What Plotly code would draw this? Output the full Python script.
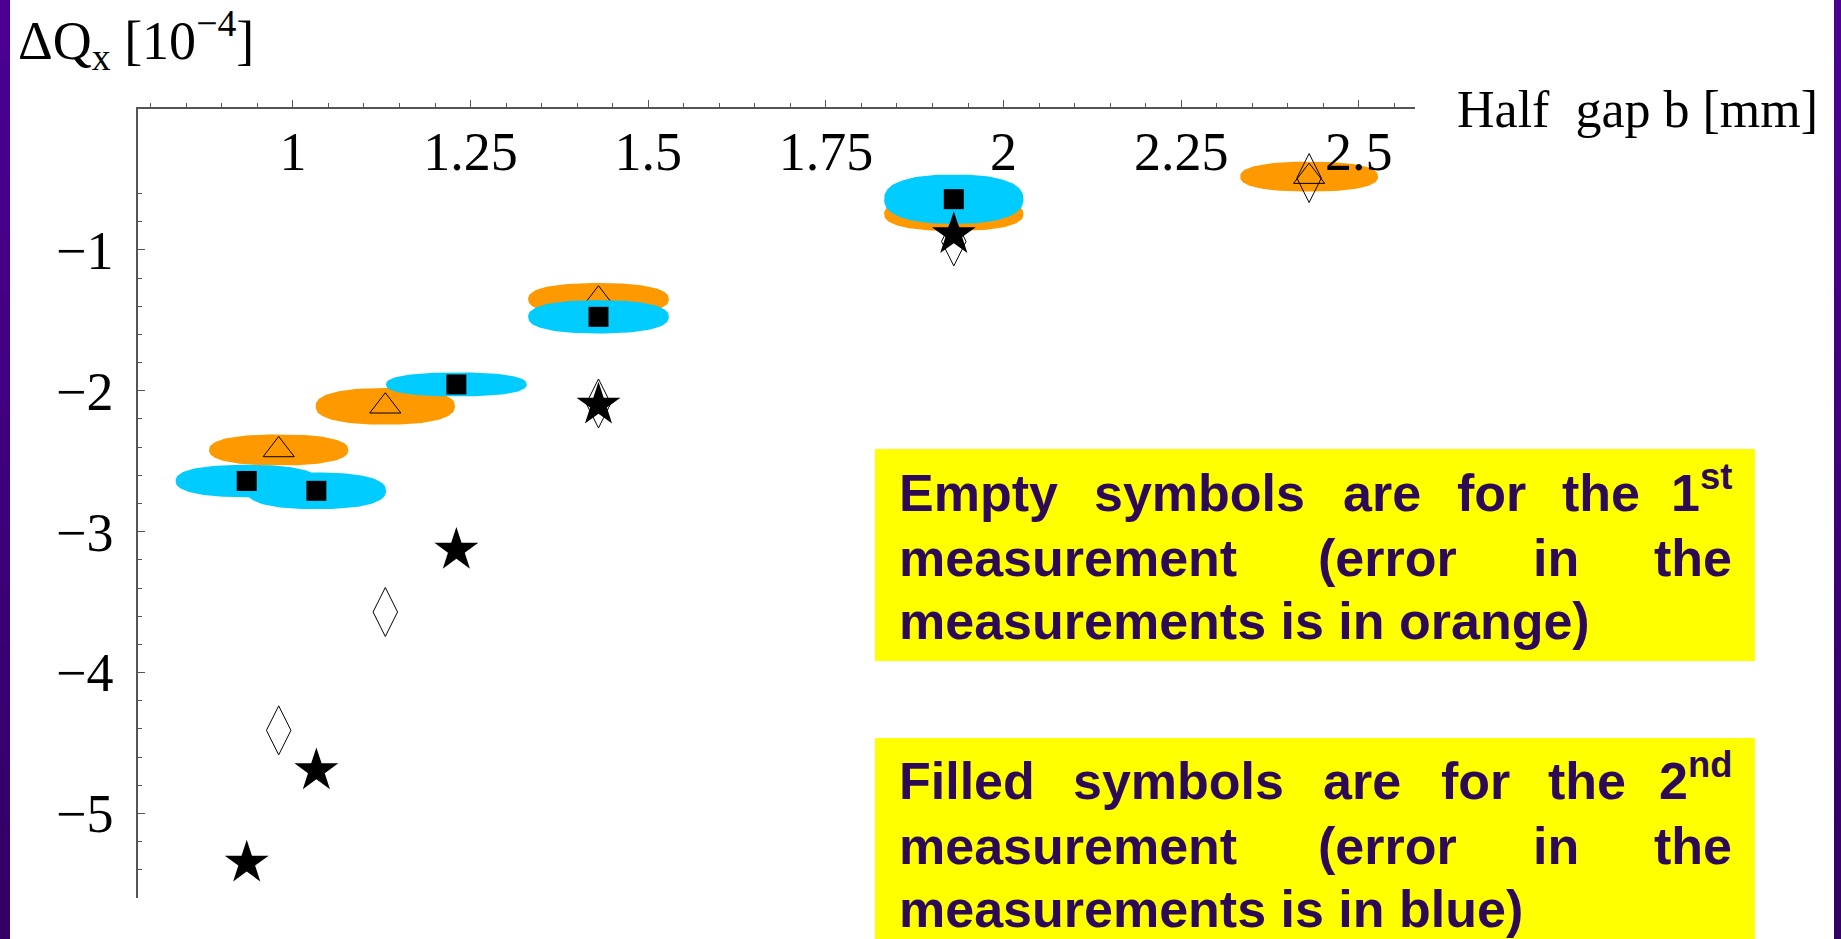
import numpy as np
import plotly.graph_objects as go

# ---------------- data ----------------
# 1st measurement: empty symbols, orange error regions
gap1 = [0.98, 1.13, 1.43, 1.93, 2.43]
meas1 = [-2.42, -2.11, -1.35, -0.745, -0.48]
meas1_err_y = [0.11, 0.13, 0.115, 0.12, 0.106]
meas1_err_x = [0.098, 0.098, 0.099, 0.098, 0.097]
theory1 = [-4.41, -3.57, -2.09, -0.94, -0.49]

# 2nd measurement: filled symbols, blue error regions
gap2 = [0.935, 1.033, 1.23, 1.43, 1.93]
meas2 = [-2.64, -2.71, -1.955, -1.475, -0.64]
meas2_err_y = [0.115, 0.13, 0.085, 0.118, 0.175]
meas2_err_x = [0.1, 0.098, 0.099, 0.099, 0.098]
theory2 = [-5.35, -4.695, -3.13, -2.10, -0.89]

x_tickvals = [1, 1.25, 1.5, 1.75, 2, 2.25, 2.5]
x_ticktext = ["1", "1.25", "1.5", "1.75", "2", "2.25", "2.5"]
y_tickvals = [-5, -4, -3, -2, -1]
x_range = [0.782, 2.579]
y_range = [-5.6, 0]

# ---------------- layout geometry (pixels) ----------------
W, H = 1841, 939
PL, PR, PT, PB = 138, 1415, 109, 898


def px(x):
    return (x - PL) / (PR - PL)


def py(y):
    return (PB - y) / (PB - PT)


ORANGE = "#FF9900"
BLUE = "#00CCFF"
TXT = "#2D0A55"
YELLOW = "#FFFF00"
SERIF = "Liberation Serif"
SANS = "Liberation Sans"

fig = go.Figure()


def ellipse_trace(cx, cy, rx, ry, color, p=2.4):
    # slightly flattened (super-)ellipse, like the blobs of the original
    t = np.linspace(0, 2 * np.pi, 121)
    c, s = np.cos(t), np.sin(t)
    ex = np.sign(c) * np.abs(c) ** (2 / p)
    ey = np.sign(s) * np.abs(s) ** (2 / p)
    return go.Scatter(
        x=cx + rx * ex, y=cy + ry * ey,
        mode="lines", fill="toself", fillcolor=color,
        line=dict(width=0, color=color), hoverinfo="skip", showlegend=False,
    )


for cx, cy, rx, ry in zip(gap1, meas1, meas1_err_x, meas1_err_y):
    fig.add_trace(ellipse_trace(cx, cy, rx, ry, ORANGE))

fig.add_trace(go.Scatter(
    x=gap1, y=theory1, mode="markers", showlegend=False,
    marker=dict(symbol="diamond-tall-open", size=35, color="black", line=dict(width=1, color="black")),
))
fig.add_trace(go.Scatter(
    x=gap1, y=meas1, mode="markers", showlegend=False,
    marker=dict(symbol="triangle-up-open", size=27, color="black", line=dict(width=1, color="black")),
))

for cx, cy, rx, ry in zip(gap2, meas2, meas2_err_x, meas2_err_y):
    fig.add_trace(ellipse_trace(cx, cy, rx, ry, BLUE))

fig.add_trace(go.Scatter(
    x=gap2, y=meas2, mode="markers", showlegend=False,
    marker=dict(symbol="square", size=20, color="black", line=dict(width=0)),
))
fig.add_trace(go.Scatter(
    x=gap2, y=theory2, mode="markers", showlegend=False,
    marker=dict(symbol="star", size=33, color="black", line=dict(width=0)),
))

axis_col = "#555555"
fig.update_layout(
    width=W, height=H,
    margin=dict(l=PL, r=W - PR, t=PT, b=H - PB, pad=0),
    paper_bgcolor="white", plot_bgcolor="rgba(0,0,0,0)",
    showlegend=False,
    xaxis=dict(
        range=x_range, side="top", anchor="y",
        showline=True, linecolor=axis_col, linewidth=1.5,
        ticks="outside", ticklen=7, tickwidth=1, tickcolor=axis_col,
        tickmode="array", tickvals=x_tickvals, ticktext=x_ticktext,
        ticklabelposition="inside", ticklabelstandoff=31,
        tickfont=dict(family=SERIF, size=54, color="black"),
        minor=dict(tickmode="linear", tick0=0, dtick=0.05, ticks="outside",
                   ticklen=4, tickwidth=1, tickcolor=axis_col),
        showgrid=False, zeroline=False, automargin=False, fixedrange=True,
    ),
    yaxis=dict(
        range=y_range,
        showline=True, linecolor=axis_col, linewidth=1.5,
        ticks="inside", ticklen=7, tickwidth=1, tickcolor=axis_col,
        tickmode="array", tickvals=y_tickvals,
        ticklabelstandoff=12,
        tickfont=dict(family=SERIF, size=54, color="black"),
        minor=dict(tickmode="linear", tick0=0, dtick=0.2, ticks="inside",
                   ticklen=4, tickwidth=1, tickcolor=axis_col),
        showgrid=False, zeroline=False, automargin=False, fixedrange=True,
    ),
)

# purple side strips (slight vertical gradient) and yellow note boxes
shapes = []
n_seg = 16
top_rgb = np.array([0x4C, 0x00, 0x92])
bot_rgb = np.array([0x33, 0x00, 0x66])
for k in range(n_seg):
    c = top_rgb + (bot_rgb - top_rgb) * k / (n_seg - 1)
    col = "rgb(%d,%d,%d)" % tuple(int(v) for v in c)
    y0p = H * k / n_seg
    y1p = H * (k + 1) / n_seg + 1
    for xa, xb in ((0, 10), (1834, 1841)):
        shapes.append(dict(type="rect", xref="paper", yref="paper",
                           x0=px(xa), x1=px(xb), y0=py(y1p), y1=py(y0p),
                           fillcolor=col, line=dict(width=0), layer="above"))
shapes.append(dict(type="rect", xref="paper", yref="paper", x0=px(875), x1=px(1755), y0=py(661), y1=py(449),
                   fillcolor=YELLOW, line=dict(width=0), layer="above"))
shapes.append(dict(type="rect", xref="paper", yref="paper", x0=px(875), x1=px(1755), y0=py(939), y1=py(738),
                   fillcolor=YELLOW, line=dict(width=0), layer="above"))
fig.update_layout(shapes=shapes)

annotations = []
# axis titles
annotations.append(dict(
    text="ΔQ<sub>x</sub> [10<sup>−4</sup>]", xref="paper", yref="paper",
    x=px(16), y=py(80), xanchor="left", yanchor="bottom", showarrow=False,
    font=dict(family=SERIF, size=54, color="black"),
))
annotations.append(dict(
    text="Half\u00a0 gap b [mm]", xref="paper", yref="paper",
    x=px(1455), y=py(140), xanchor="left", yanchor="bottom", showarrow=False,
    font=dict(family=SERIF, size=52, color="black"),
))

# justified box text, word by word: (text, x_px, anchor)
FS = 52
box_lines = [
    (512, [("Empty", 897, "left"), ("symbols", 1199, "center"), ("are", 1382, "center"),
           ("for", 1491, "center"), ("the", 1601, "center"), ("1<sup>st</sup>", 1734, "right")]),
    (577, [("measurement", 897, "left"), ("(error", 1387, "center"), ("in", 1556, "center"),
           ("the", 1734, "right")]),
    (640, [("measurements is in orange)", 897, "left")]),
    (800, [("Filled", 897, "left"), ("symbols", 1178, "center"), ("are", 1362, "center"),
           ("for", 1475, "center"), ("the", 1587, "center"), ("2<sup>nd</sup>", 1734, "right")]),
    (865, [("measurement", 897, "left"), ("(error", 1387, "center"), ("in", 1556, "center"),
           ("the", 1734, "right")]),
    (928, [("measurements is in blue)", 897, "left")]),
]
for base, words in box_lines:
    for text, xp, anc in words:
        annotations.append(dict(
            text=f"<b>{text}</b>", xref="paper", yref="paper",
            x=px(xp), y=py(base + 0.21 * FS + 1), xanchor=anc, yanchor="bottom",
            showarrow=False, font=dict(family=SANS, size=FS, color=TXT),
        ))

fig.update_layout(annotations=annotations)

fig.write_html(
    "out.html",
    config={"displayModeBar": False},
    post_script="document.body.style.margin='0px';document.body.style.overflow='hidden';",
)
